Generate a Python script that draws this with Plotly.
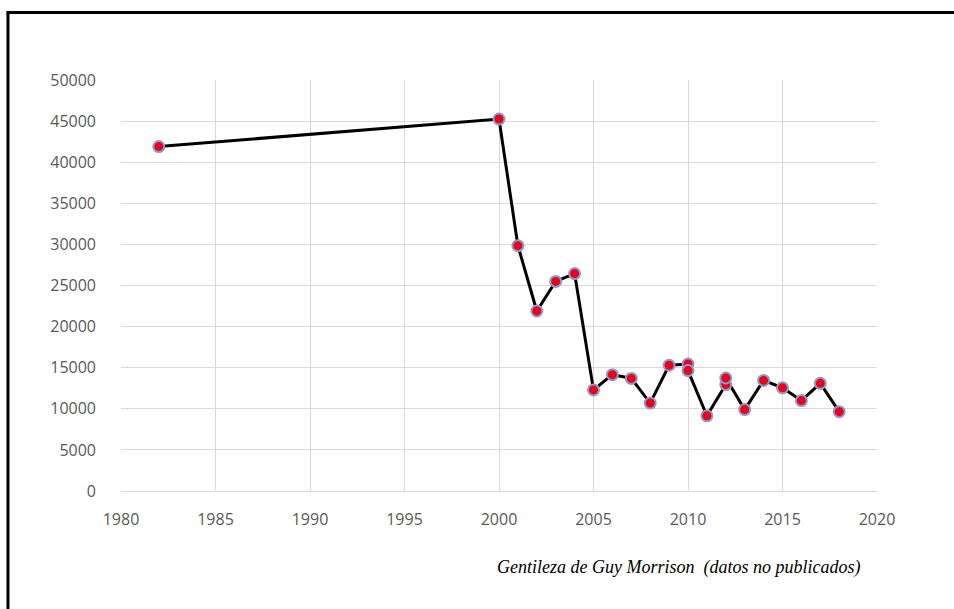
import plotly.graph_objects as go

years = [1982, 2000, 2001, 2002, 2003, 2004, 2005, 2006, 2007, 2008, 2009,
         2010, 2010, 2011, 2012, 2012, 2013, 2014, 2015, 2016, 2017, 2018]
values = [41900, 45250, 29850, 21900, 25500, 26450, 12300, 14150, 13700, 10700, 15300,
          15450, 14650, 9150, 12950, 13750, 9900, 13450, 12550, 11000, 13100, 9650]

x_ticks = [1980, 1985, 1990, 1995, 2000, 2005, 2010, 2015, 2020]
y_ticks = [0, 5000, 10000, 15000, 20000, 25000, 30000, 35000, 40000, 45000, 50000]
footer = "Gentileza de Guy Morrison  (datos no publicados)"

fig = go.Figure()
fig.add_trace(go.Scatter(
    x=years, y=values, mode="lines+markers",
    line=dict(color="black", width=3),
    marker=dict(size=11, color="#e8001c", line=dict(color="#8c9cc8", width=2)),
    showlegend=False, cliponaxis=False,
))

tick_font = dict(family="Open Sans, sans-serif", size=16, color="#595959")
fig.update_layout(
    width=954, height=609,
    margin=dict(l=121, r=77, t=80, b=118),
    paper_bgcolor="white", plot_bgcolor="white",
    xaxis=dict(range=[1980, 2020], tickvals=x_ticks, ticktext=[str(v) for v in x_ticks],
               showgrid=True, gridcolor="#d9d9d9", gridwidth=1, zeroline=False,
               showline=True, linecolor="#d9d9d9", linewidth=1, ticks="",
               tickfont=tick_font, ticklabelstandoff=14),
    yaxis=dict(range=[0, 50000], tickvals=y_ticks, ticktext=[str(v) for v in y_ticks],
               showgrid=True, gridcolor="#d9d9d9", gridwidth=1, zeroline=False,
               showline=False, ticks="", tickfont=tick_font, ticklabelstandoff=24),
    shapes=[
        dict(type="line", xref="paper", yref="paper",
             x0=-0.1495, x1=-0.1495, y0=-0.33, y1=1.164,
             line=dict(color="black", width=3)),
        dict(type="line", xref="paper", yref="paper",
             x0=-0.1515, x1=1.102, y0=1.164, y1=1.164,
             line=dict(color="black", width=3)),
    ],
    annotations=[
        dict(text=footer, xref="paper", yref="paper", x=0.495, y=-0.185,
             xanchor="left", yanchor="middle", showarrow=False,
             font=dict(family="Liberation Serif, serif", size=18, color="black", style="italic")),
    ],
)

fig.write_html("out.html", config={"displayModeBar": False},
               post_script="document.body.style.margin='0';document.body.style.overflow='hidden';document.documentElement.style.overflow='hidden';")
